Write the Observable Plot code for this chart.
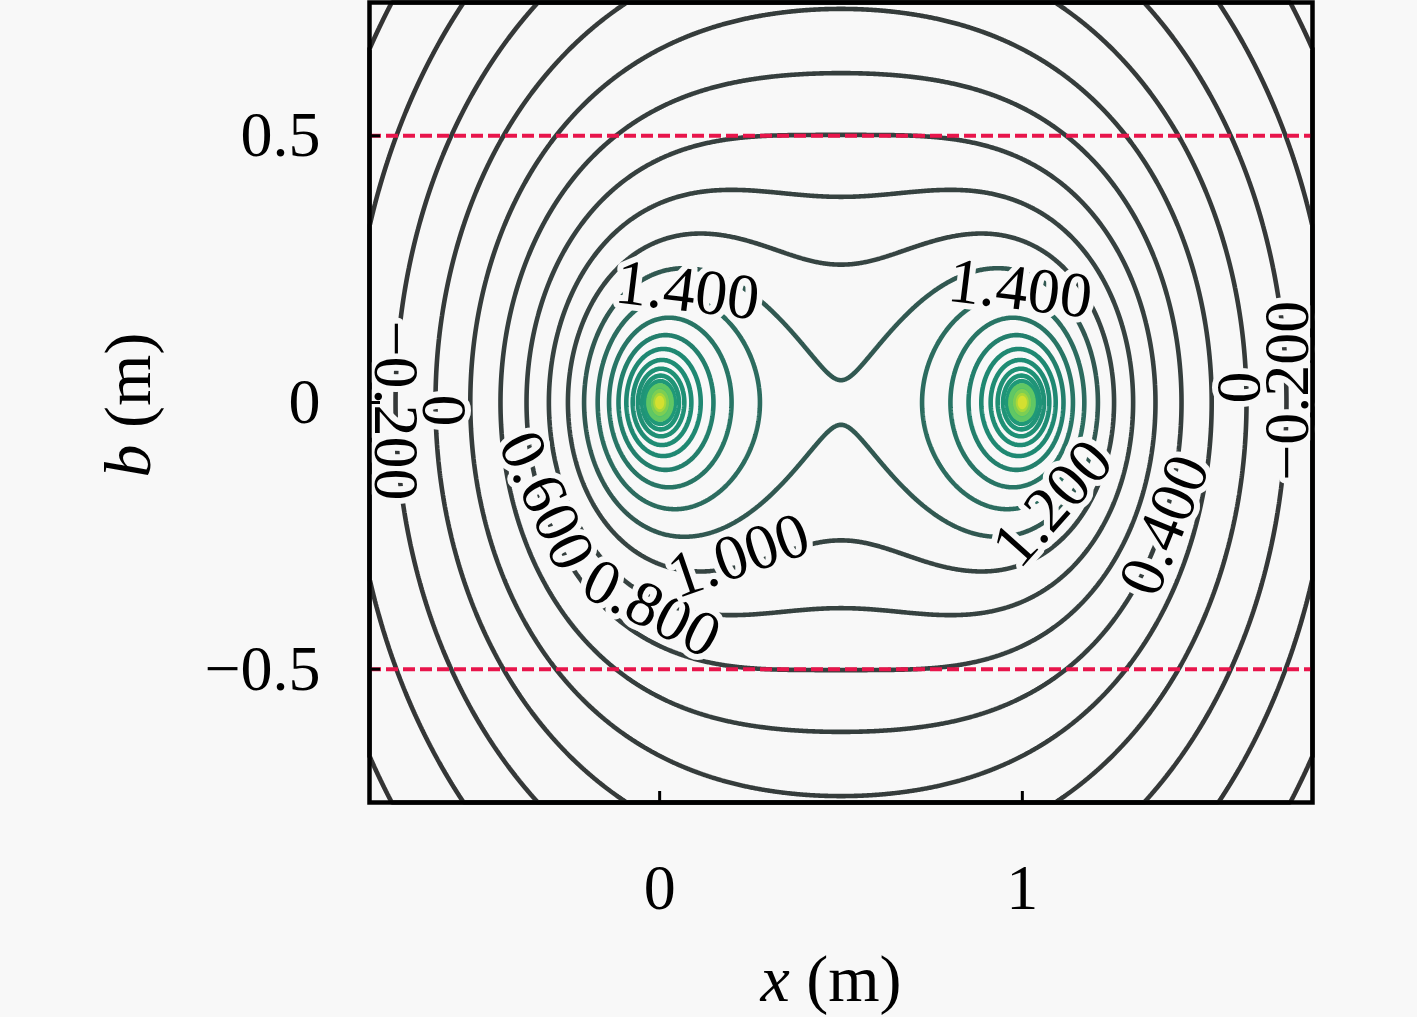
<!DOCTYPE html>
<html><head><meta charset="utf-8">
<script src="https://cdn.jsdelivr.net/npm/d3@7"></script>
<script src="https://cdn.jsdelivr.net/npm/@observablehq/plot@0.6"></script>
<style>
html,body{margin:0;padding:0;background:#f8f8f8;}
</style></head><body><div id="chart"></div>
<script>
// Field model: two line sources (positions), strength fitted to contour spacing
const sourceX = [0, 1];
const sourceY = [0, 0];
const fieldStrength = 0.87;
const fieldOffset = 0;

const lineLevels = [-0.6, -0.4, -0.2, 0, 0.2, 0.4, 0.6, 0.8, 1.0, 1.2, 1.4, 1.6, 1.8, 2.0, 2.2, 2.4, 2.6, 2.8, 3.0];
const fillLevels = [2.9, 3.2, 3.5, 3.8];

const xTicks = [0, 1];
const xTickLabels = ["0", "1"];
const yTicks = [-0.5, 0, 0.5];
const yTickLabels = ["\u22120.5", "0", "0.5"];
const guideLines = [-0.5, 0.5];

const labelText = ["1.400", "1.400", "\u22120.200", "0", "0.600", "0.800", "1.000", "1.200", "0.400", "0", "\u22120.200"];
const labelX = [0.077, 0.994, -0.727, -0.597, -0.312, -0.022, 0.218, 1.083, 1.392, 1.599, 1.732];
const labelY = [0.21, 0.213, -0.015, -0.015, -0.184, -0.386, -0.287, -0.189, -0.230, 0.028, 0.022];
const labelAngle = [7, 7, 90, 90, 65, 27, -19, -48, -68, -90, -90];

const colorDomain = [-0.6, 1.0, 1.4, 2.0, 2.8, 2.9, 3.5, 4.0];
const colorRange = ["#343434", "#364442", "#2c6c5f", "#1f8872", "#1f9878", "#52c46c", "#a8d83a", "#f2e52a"];

function field(x, y) {
  let p = 1;
  for (let i = 0; i < sourceX.length; i++) p *= Math.hypot(x - sourceX[i], y - sourceY[i]);
  const v = fieldOffset - fieldStrength * Math.log(p);
  return Math.min(v, 4.5);
}

const labels = labelText.map((t, i) => ({t, x: labelX[i], y: labelY[i], a: labelAngle[i]}));
const bg = "#f8f8f8";

const plot = Plot.plot({
  width: 1417, height: 1017,
  marginLeft: 369, marginRight: 105, marginTop: 2, marginBottom: 215,
  style: {fontFamily: "'Liberation Serif', 'DejaVu Serif', serif", fontSize: "64px", background: bg, color: "#000"},
  x: {domain: [-0.8, 1.8]},
  y: {domain: [-0.75, 0.75]},
  color: {type: "linear", domain: colorDomain, range: colorRange},
  marks: [
    Plot.contour(null, {value: field, x1: -0.8, x2: 1.8, y1: -0.75, y2: 0.75, fill: "value", stroke: "none", thresholds: fillLevels, pixelSize: 1}),
    Plot.contour(null, {value: field, x1: -0.8, x2: 1.8, y1: -0.75, y2: 0.75, stroke: "value", fill: "none", thresholds: lineLevels, strokeWidth: 4.6, pixelSize: 1}),
    Plot.ruleY(guideLines, {y: d => d, stroke: "#e8154b", strokeWidth: 4, strokeDasharray: "12,5"}),
    Plot.text(labels, {x: "x", y: "y", text: "t", rotate: "a", fontSize: 64, fill: "#000", stroke: bg, strokeWidth: 12, paintOrder: "stroke", strokeLinejoin: "round"}),
    Plot.tickX(xTicks, {x: d => d, insetTop: 789, stroke: "#000", strokeWidth: 3}),
    Plot.tickY(yTicks, {y: d => d, insetRight: 932, stroke: "#000", strokeWidth: 3}),
    Plot.axisX(xTicks, {tickSize: 0, tickPadding: 61, label: null, fontSize: 64, tickFormat: d => xTickLabels[xTicks.indexOf(d)]}),
    Plot.axisY(yTicks, {tickSize: 0, tickPadding: 49, label: null, fontSize: 64, tickFormat: d => yTickLabels[yTicks.indexOf(d)]}),
    Plot.frame({stroke: "#000", strokeWidth: 4.5})
  ]
});

const svg = d3.select(plot);
const xl = svg.append("text").attr("x", 831).attr("y", 1001).attr("text-anchor", "middle")
  .attr("font-size", 66).attr("fill", "#000");
xl.append("tspan").attr("font-style", "italic").text("x");
xl.append("tspan").text(" (m)");
const yl = svg.append("text").attr("transform", "translate(150,405) rotate(-90)").attr("text-anchor", "middle")
  .attr("font-size", 66).attr("fill", "#000");
yl.append("tspan").attr("font-style", "italic").text("b");
yl.append("tspan").text(" (m)");

document.getElementById("chart").appendChild(plot);
</script>
</body></html>
